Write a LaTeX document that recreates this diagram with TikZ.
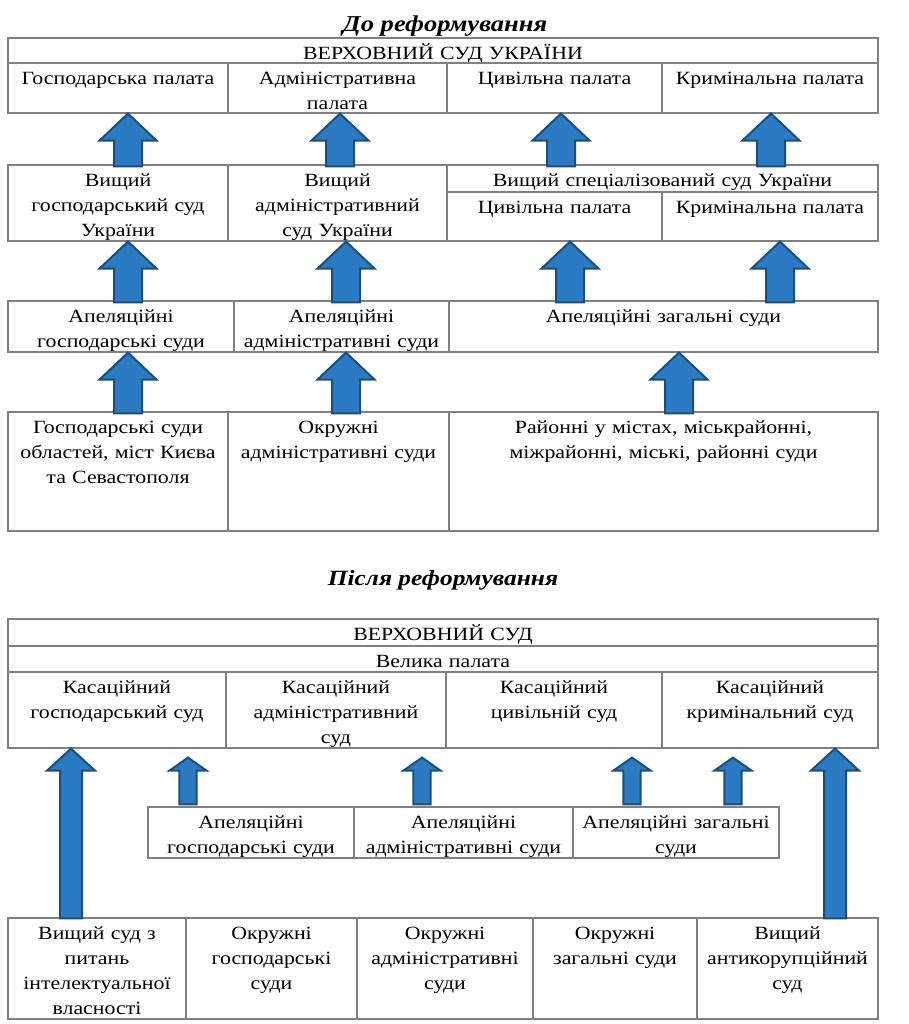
\documentclass[tikz,border=0pt]{standalone}
\usepackage{fontspec}
\setmainfont{Liberation Serif}[FakeStretch=1.17]
\usepackage{tikz}
\usetikzlibrary{calc}
\usetikzlibrary{fit}
\usepackage{xcolor}

\definecolor{arrowfill}{HTML}{2B7BC3}
\definecolor{arrowline}{HTML}{1C4E7C}
\definecolor{tableline}{HTML}{808080}

\tikzset{
  cell/.style={draw=tableline, line width=0.9pt, inner sep=0pt},
  txt/.style={anchor=north, inner sep=0pt, yshift=-3.4pt, text width=260pt, align=center,
    font=\fontsize{14}{18.75}\selectfont, execute at begin node=\strut},
  heading/.style={anchor=base, font=\fontsize{17}{20}\selectfont\bfseries\itshape},
  blockarr/.style={fill=arrowfill, draw=arrowline, line width=1.5pt, line join=miter},
}

% cell of the table: name, corner, corner, text
\newcommand{\courtcell}[4]{%
  \node[cell, fit={#2 #3}] (#1) {};
  \node[txt] (#1-t) at (#1.north) {#4};}

% block arrow: bottom point, tip, half shaft, half head, head length
\newcommand{\blockarrow}[5]{%
  \filldraw[blockarr] let \p1=#1, \p2=#2 in
    ({\x2-#3},\y1) -- ({\x2-#3},{\y2-#5}) -- ({\x2-#4},{\y2-#5}) -- (\p2)
    -- ({\x2+#4},{\y2-#5}) -- ({\x2+#3},{\y2-#5}) -- ({\x2+#3},\y1) -- cycle;}

\begin{document}
\begin{tikzpicture}[x=0.75pt, y=-0.75pt]
\useasboundingbox (0,0) rectangle (909,1024);

% before the reform
\node[heading] (before) at (445,32) {До реформування};
\courtcell{vsu}{(8,38)}{(878,63)}{ВЕРХОВНИЙ СУД УКРАЇНИ}
\courtcell{gp}{(8,63)}{(228,113)}{Господарська палата}
\courtcell{ad}{(228,63)}{(447,113)}{Адміністративна\\палата}
\courtcell{cp}{(447,63)}{(662,113)}{Цивільна палата}
\courtcell{kp}{(662,63)}{(878,113)}{Кримінальна палата}

\courtcell{vgs}{(8,165)}{(228,241)}{Вищий\\господарський суд\\України}
\courtcell{vas}{(228,165)}{(447,241)}{Вищий\\адміністративний\\суд України}
\courtcell{vss}{(447,165)}{(878,192)}{Вищий спеціалізований суд України}
\courtcell{vcp}{(447,192)}{(662,241)}{Цивільна палата}
\courtcell{vkp}{(662,192)}{(878,241)}{Кримінальна палата}

\courtcell{ags}{(8,301)}{(234,352)}{Апеляційні\\господарські суди}
\courtcell{aas}{(234,301)}{(449,352)}{Апеляційні\\адміністративні суди}
\courtcell{azs}{(449,301)}{(878,352)}{Апеляційні загальні суди}

\courtcell{gsud}{(8,412)}{(228,531)}{Господарські суди\\областей, міст Києва\\та Севастополя}
\courtcell{oas}{(228,412)}{(449,531)}{Окружні\\адміністративні суди}
\courtcell{rs}{(449,412)}{(878,531)}{Районні у містах, міськрайонні,\\міжрайонні, міські, районні суди}

\foreach \ax/\lo/\up in {128/vgs/gp, 340/vas/ad, 561/vss/cp, 771/vss/kp,
    128/ags/vgs, 346/aas/vas, 570/azs/vcp, 780/azs/vkp,
    128/gsud/ags, 346/oas/aas, 679/rs/azs}
  {\blockarrow{($(\ax,0 |- \lo.north)+(0,2)$)}{(\ax,0 |- \up.south)}{10.5pt}{21.4pt}{20.25pt}}

% after the reform
\node[heading, font=\fontsize{16.3}{20}\selectfont\bfseries\itshape] (after) at (443,585) {Після реформування};
\courtcell{vs}{(8,619)}{(878,646)}{ВЕРХОВНИЙ СУД}
\courtcell{vp}{(8,646)}{(878,672)}{Велика палата}
\courtcell{kgs}{(8,672)}{(226,748)}{Касаційний\\господарський суд}
\courtcell{kas}{(226,672)}{(446,748)}{Касаційний\\адміністративний\\суд}
\courtcell{kcs}{(446,672)}{(662,748)}{Касаційний\\цивільній суд}
\courtcell{kks}{(662,672)}{(878,748)}{Касаційний\\кримінальний суд}

\courtcell{nag}{(148,807)}{(354,858)}{Апеляційні\\господарські суди}
\courtcell{naa}{(354,807)}{(573,858)}{Апеляційні\\адміністративні суди}
\courtcell{naz}{(573,807)}{(779,858)}{Апеляційні загальні\\суди}

\courtcell{vsip}{(8,918)}{(186,1019)}{Вищий суд з\\питань\\інтелектуальної\\власності}
\courtcell{ogs}{(186,918)}{(357,1019)}{Окружні\\господарські\\суди}
\courtcell{oads}{(357,918)}{(533,1019)}{Окружні\\адміністративні\\суди}
\courtcell{ozs}{(533,918)}{(697,1019)}{Окружні\\загальні суди}
\courtcell{vaks}{(697,918)}{(878,1019)}{Вищий\\антикорупційний\\суд}

\foreach \ax/\lo/\up in {71/vsip/kgs, 835/vaks/kks}
  {\blockarrow{($(\ax,0 |- \lo.north)+(0,1)$)}{(\ax,0 |- \up.south)}{8.25pt}{18pt}{16.5pt}}
\foreach \ax/\lo/\up in {188/nag/kgs, 422/naa/kas, 632/naz/kcs, 733/naz/kks}
  {\blockarrow{($(\ax,0 |- \lo.north)+(0,-2)$)}{($(\ax,0 |- \up.south)+(0,9)$)}{6.4pt}{13.9pt}{9.75pt}}

\end{tikzpicture}
\end{document}
